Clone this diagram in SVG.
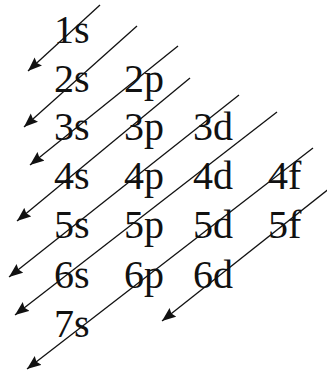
<svg xmlns="http://www.w3.org/2000/svg" width="327" height="370" viewBox="0 0 327 370">
<style>
.t text{font-family:"Liberation Serif","Times New Roman",serif;font-size:40px;fill:#111}
.c line{stroke:#111;stroke-width:1.3;marker-end:url(#ah)}
</style>
<defs>
<marker id="ah" markerUnits="userSpaceOnUse" markerWidth="15" markerHeight="12" refX="14" refY="6" orient="auto">
<path d="M0,0.5 L14,6 L0,11.5 L2,6 z" fill="#111"/>
</marker>
</defs>
<rect width="327" height="370" fill="#fff"/>
<g class="t">
<g id="n1s"><text x="54" y="43">1s</text></g>
<g id="n2s"><text x="54" y="92">2s</text></g>
<g id="n2p"><text x="124" y="92">2p</text></g>
<g id="n3s"><text x="54" y="140">3s</text></g>
<g id="n3p"><text x="124" y="140">3p</text></g>
<g id="n3d"><text x="193" y="140">3d</text></g>
<g id="n4s"><text x="54" y="189">4s</text></g>
<g id="n4p"><text x="124" y="189">4p</text></g>
<g id="n4d"><text x="193" y="189">4d</text></g>
<g id="n4f"><text x="268" y="189">4f</text></g>
<g id="n5s"><text x="54" y="238">5s</text></g>
<g id="n5p"><text x="124" y="238">5p</text></g>
<g id="n5d"><text x="193" y="238">5d</text></g>
<g id="n5f"><text x="268" y="238">5f</text></g>
<g id="n6s"><text x="54" y="288">6s</text></g>
<g id="n6p"><text x="124" y="288">6p</text></g>
<g id="n6d"><text x="193" y="288">6d</text></g>
<g id="n7s"><text x="54" y="337">7s</text></g>
</g>
<g id="connectors" class="c">
<line x1="100" y1="5" x2="28" y2="71"/>
<line x1="137" y1="26" x2="24" y2="127"/>
<line x1="178" y1="46" x2="30" y2="165"/>
<line x1="190" y1="78" x2="17" y2="221"/>
<line x1="239" y1="95" x2="9" y2="277"/>
<line x1="277" y1="112" x2="15" y2="315"/>
<line x1="313" y1="148" x2="27" y2="369"/>
<line x1="330" y1="188" x2="162" y2="321"/>
</g>
</svg>
